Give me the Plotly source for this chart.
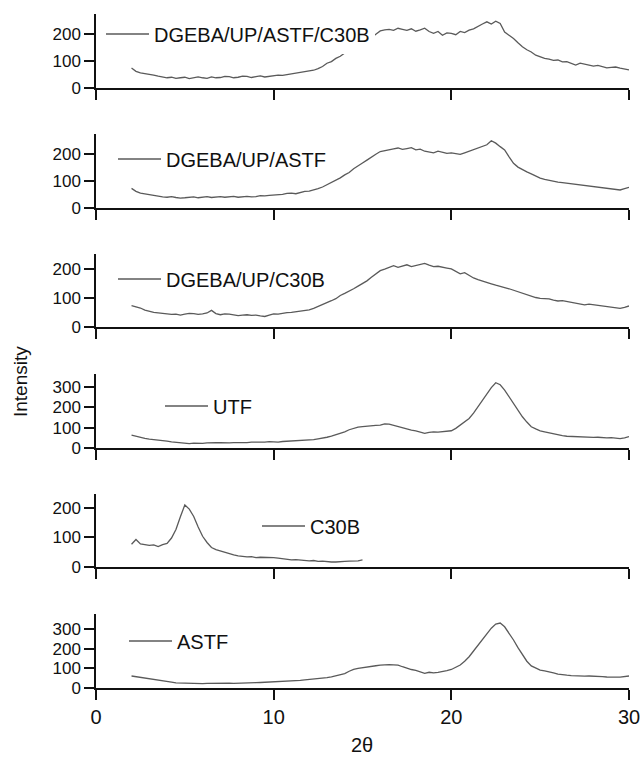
import plotly.graph_objects as go

# ---------------- data ----------------
names = ["DGEBA/UP/ASTF/C30B", "DGEBA/UP/ASTF", "DGEBA/UP/C30B", "UTF", "C30B", "ASTF"]

# sampling grid of the diffractograms (2θ, degrees)
x_full = [2 + 0.25 * i for i in range(113)]      # 2 … 30
x_c30b = [2 + 0.25 * i for i in range(53)]       # 2 … 15

y_dgeba_up_astf_c30b = [
    74, 62, 56, 54, 50, 48, 44, 42, 38, 40, 36, 38, 40, 35, 37, 41,   # 2.00–5.75
    38, 36, 41, 38, 39, 43, 42, 38, 40, 44, 43, 39, 42, 45, 41, 43,   # 6.00–9.75
    44, 48, 47, 50, 52, 55, 57, 60, 63, 66, 72, 80, 92, 98, 110, 118, # 10.00–13.75
    130, 140, 152, 160, 170, 178, 187, 200, 212, 216, 218, 214, 222, 218, 214, 220,  # 14.00–17.75
    211, 216, 222, 210, 203, 210, 196, 205, 203, 198, 210, 206, 215, 220, 230, 238,  # 18.00–21.75
    246, 238, 248, 240, 208, 196, 184, 168, 153, 142, 134, 122, 116, 110, 107, 103,  # 22.00–25.75
    104, 97, 98, 90, 85, 92, 88, 83, 81, 84, 79, 75, 77, 78, 74, 70,  # 26.00–29.75
    67]

y_dgeba_up_astf = [
    73, 62, 55, 52, 48, 46, 44, 41, 40, 42, 39, 37, 38, 40, 41, 38,
    40, 42, 39, 41, 42, 40, 41, 43, 40, 42, 43, 41, 42, 46, 45, 47,
    48, 50, 51, 54, 55, 53, 58, 62, 63, 67, 72, 78, 86, 94, 103, 112,
    123, 132, 146, 155, 167, 178, 190, 200, 210, 214, 216, 220, 223, 218, 221, 224,
    216, 219, 211, 207, 205, 211, 208, 203, 205, 202, 199, 205, 211, 216, 223, 228,
    235, 250, 241, 228, 216, 190, 166, 152, 142, 134, 127, 118, 111, 106, 102, 99,
    96, 94, 92, 90, 88, 85, 83, 82, 80, 77, 76, 74, 73, 70, 67, 72,
    77]

y_dgeba_up_c30b = [
    73, 70, 65, 58, 53, 50, 48, 46, 45, 43, 44, 41, 44, 47, 46, 43,
    45, 48, 57, 46, 42, 45, 44, 41, 39, 41, 42, 40, 41, 38, 36, 41,
    45, 44, 47, 49, 50, 52, 54, 56, 59, 64, 70, 76, 83, 90, 97, 108,
    115, 122, 131, 140, 148, 158, 170, 180, 193, 198, 204, 210, 204, 208, 213, 207,
    210, 214, 218, 212, 207, 208, 204, 202, 199, 190, 182, 186, 176, 168, 162, 158,
    154, 148, 143, 140, 135, 131, 126, 120, 115, 110, 104, 101, 98, 97, 96, 92,
    89, 90, 87, 84, 81, 79, 76, 78, 76, 74, 72, 71, 70, 67, 64, 67,
    72]

y_utf = [
    64, 58, 53, 48, 44, 42, 39, 36, 34, 30, 28, 25, 23, 22, 24, 23,
    23, 25, 24, 26, 26, 24, 25, 27, 26, 25, 27, 29, 28, 27, 29, 31,
    30, 29, 32, 33, 34, 35, 36, 38, 39, 41, 45, 48, 53, 58, 65, 72,
    80, 90, 97, 103, 105, 108, 110, 112, 113, 119, 118, 112, 105, 98, 92, 88,
    85, 78, 72, 77, 80, 78, 80, 82, 85, 97, 113, 128, 146, 172, 203, 236,
    269, 298, 322, 312, 286, 252, 220, 186, 154, 128, 105, 94, 85, 80, 75, 68,
    64, 61, 58, 57, 56, 53, 54, 52, 52, 53, 51, 50, 51, 49, 46, 50,
    56]

y_c30b = [
    77, 93, 78, 76, 73, 75, 69, 76, 80, 98, 127, 170, 210, 196, 171, 135,
    104, 83, 66, 59, 54, 50, 45, 41, 38, 36, 34, 35, 32, 33, 33, 31,
    32, 30, 28, 26, 24, 25, 23, 22, 21, 22, 19, 20, 18, 17, 17, 19,
    19, 20, 20, 21, 24]

y_astf = [
    61, 58, 54, 51, 48, 46, 42, 39, 36, 30, 26, 25, 24, 24, 23, 23,
    22, 23, 24, 25, 26, 25, 25, 24, 24, 25, 25, 26, 27, 28, 29, 30,
    31, 31, 33, 35, 36, 37, 39, 41, 43, 45, 47, 50, 53, 57, 62, 67,
    73, 85, 95, 100, 104, 106, 110, 113, 116, 118, 119, 118, 116, 108, 99, 94,
    90, 80, 74, 80, 77, 79, 82, 88, 94, 104, 117, 136, 159, 188, 218, 248,
    277, 304, 325, 330, 311, 280, 244, 205, 168, 136, 112, 100, 91, 87, 83, 77,
    71, 67, 65, 63, 61, 61, 60, 61, 61, 59, 58, 56, 54, 55, 55, 57,
    61]

y_ranges = [275, 275, 250, 365, 247, 376]
y_ticks = [[0, 100, 200], [0, 100, 200], [0, 100, 200], [0, 100, 200, 300], [0, 100, 200],
           [0, 100, 200, 300]]
x_ticks = [0, 10, 20, 30]

series_x = [x_full, x_full, x_full, x_full, x_c30b, x_full]
series_y = [y_dgeba_up_astf_c30b, y_dgeba_up_astf, y_dgeba_up_c30b, y_utf, y_c30b, y_astf]

# ---------------- layout constants ----------------
W, H = 641, 759
L, R, T, B = 96, 12, 14, 71
plot_h = H - T - B
panel_px = [(14, 88), (134, 208), (254, 327), (374, 448), (494, 567), (614, 688)]
# legend left edge (px) and centre (px)
legend_px = [(101, 34), (113, 159), (113, 279), (160, 406), (257, 526), (124, 641)]

def py2paper(py):
    return (H - B - py) / plot_h

def px2paper(px):
    return (px - L) / (W - L - R)

fig = go.Figure()
layout = dict(
    width=W, height=H, autosize=False,
    margin=dict(l=L, r=R, t=T, b=B, autoexpand=False),
    paper_bgcolor="white", plot_bgcolor="white",
    font=dict(family="Liberation Sans, Arial, sans-serif", color="#111"),
    showlegend=True,
)

for i in range(6):
    n = i + 1
    xa = "x" if n == 1 else f"x{n}"
    ya = "y" if n == 1 else f"y{n}"
    lg = "legend" if n == 1 else f"legend{n}"
    fig.add_trace(go.Scatter(
        x=series_x[i], y=series_y[i], mode="lines", name=names[i],
        line=dict(color="#5a5a5a", width=1.3),
        xaxis=xa, yaxis=ya, legend=lg,
    ))
    top, bot = panel_px[i]
    xkey = "xaxis" if n == 1 else f"xaxis{n}"
    ykey = "yaxis" if n == 1 else f"yaxis{n}"
    layout[xkey] = dict(
        domain=[0, 1], anchor=ya, range=[0, 30], automargin=False,
        tickvals=x_ticks, showticklabels=(n == 6),
        ticks="outside", ticklen=10, tickwidth=1.5, tickcolor="#111",
        showline=True, linecolor="#111", linewidth=1.5,
        showgrid=False, zeroline=False,
        tickfont=dict(size=20, color="#111"),
    )
    layout[ykey] = dict(
        domain=[py2paper(bot), py2paper(top)], anchor=xa, range=[0, y_ranges[i]],
        tickvals=y_ticks[i], automargin=False,
        ticks="outside", ticklen=10, tickwidth=1.5, tickcolor="#111",
        showline=True, linecolor="#111", linewidth=1.5,
        showgrid=False, zeroline=False,
        tickfont=dict(size=17, color="#111"),
    )
    lx, ly = legend_px[i]
    layout[lg] = dict(
        x=px2paper(lx), y=py2paper(ly), xanchor="left", yanchor="middle",
        bgcolor="white", borderwidth=0, itemwidth=43,
        font=dict(size=20, color="#111"),
    )

layout["annotations"] = [
    dict(text="Intensity", x=px2paper(20), y=py2paper(382), xref="paper", yref="paper",
         xanchor="center", yanchor="middle",
         showarrow=False, textangle=-90, font=dict(size=19, color="#111")),
    dict(text="2θ", x=px2paper(362), y=py2paper(745), xref="paper", yref="paper",
         xanchor="center", yanchor="middle",
         showarrow=False, font=dict(size=20, color="#111")),
]

fig.update_layout(**layout)
fig.write_html("out.html")
